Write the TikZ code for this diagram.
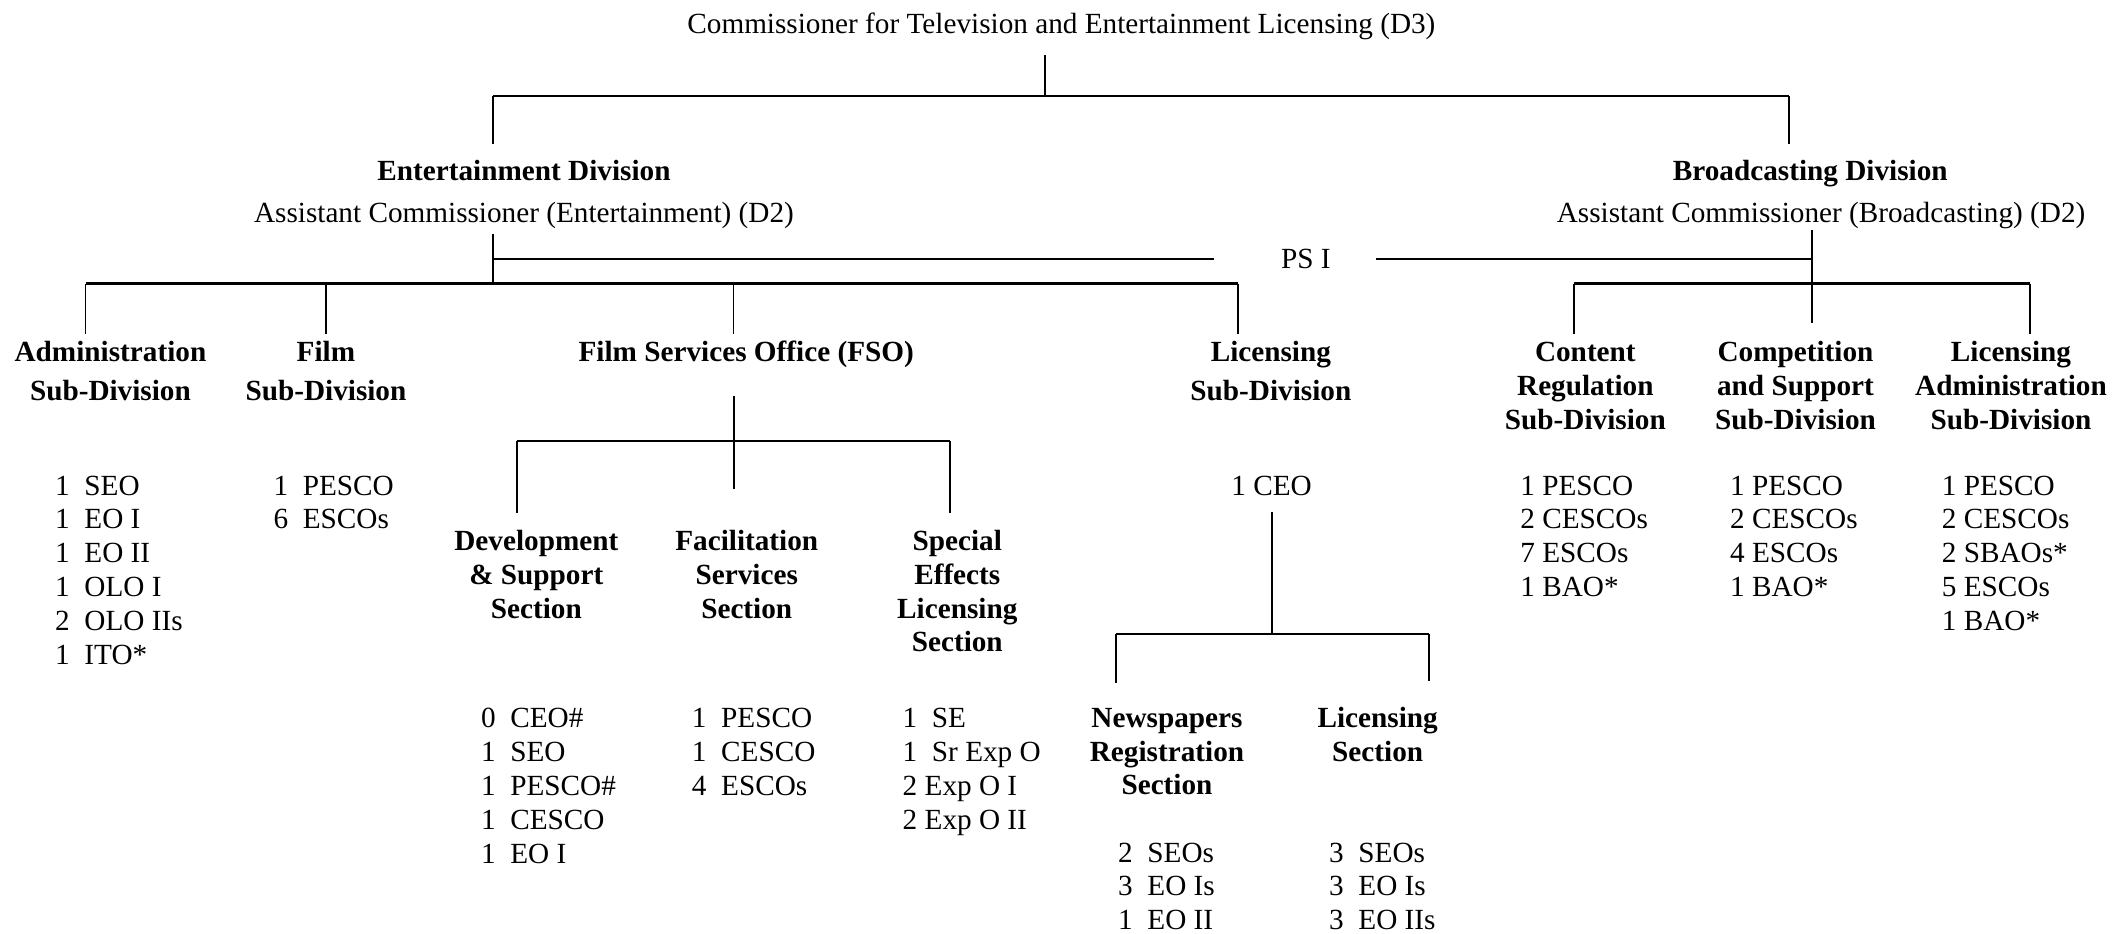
\documentclass[tikz,border=0pt]{standalone}
\usepackage{fontspec}
\setmainfont{Liberation Serif}
\newcommand{\mystk}[2]{\begin{tabular}[t]{@{}#1@{}}#2\end{tabular}}
\tikzset{
  vln/.style={line width=1.35pt},
  hln/.style={line width=1.7pt},
  lbl/.style={inner sep=0pt, anchor=base, font=\fontsize{21.7}{25}\selectfont},
  hd/.style={lbl, font=\fontsize{21.7}{25}\selectfont\bfseries},
  hdtwo/.style={lbl, font=\fontsize{21.7}{29}\selectfont\bfseries},
  lst/.style={inner sep=0pt, anchor=base west, font=\fontsize{21.7}{25.2}\selectfont},
}
\begin{document}
\begin{tikzpicture}[x=1pt,y=-1pt]
\fill[white] (0,0) rectangle (1568,693.4);
\useasboundingbox (0,0) rectangle (1568,693.4);

% ---------- top ----------
\node[lbl] (title) at (788,24.7) {Commissioner for Television and Entertainment Licensing (D3)};
\node[hd] (entdiv) at (389,134) {Entertainment Division};
\node[lbl] (entac) at (389,165) {Assistant Commissioner (Entertainment) (D2)};
\node[hd] (brdiv) at (1344,134) {Broadcasting Division};
\node[lbl] (brac) at (1352,165) {Assistant Commissioner (Broadcasting) (D2)};
\node[lbl] (psi) at (969.5,199) {PS I};

\coordinate (t0) at (776,41);
\coordinate (tL) at (366,71.3);
\coordinate (tR) at (1328,71.3);
\coordinate (tLe) at (366,107);
\coordinate (tRe) at (1328,107);
\draw[vln] (t0) -- (t0 |- tL);
\draw[hln] (tL) -- (tR);
\draw[vln] (tL) -- (tLe);
\draw[vln] (tR) -- (tRe);

% ---------- second level connectors ----------
\coordinate (e0) at (366,174);
\coordinate (e1) at (366,210.5);
\coordinate (b0) at (1345,171);
\coordinate (b1) at (1345,240);
\coordinate (p0) at (366,192.5);
\coordinate (p1) at (901,192.5);
\coordinate (p2) at (1021.5,192.5);
\coordinate (p3) at (1345,192.5);
\draw[vln] (e0) -- (e1);
\draw[vln] (b0) -- (b1);
\draw[hln] (p0) -- (p1);
\draw[hln] (p2) -- (p3);

\coordinate (eA) at (63.5,210.5);
\coordinate (eB) at (242,210.5);
\coordinate (eC) at (544.5,210.5);
\coordinate (eD) at (919,210.5);
\draw[hln] (eA) -- (eD);
\foreach \c in {eA,eB,eC,eD} \draw[vln] (\c) -- ++(0,37.5);

\coordinate (bA) at (1168.5,210.5);
\coordinate (bB) at (1507,210.5);
\draw[hln] (bA) -- (bB);
\draw[vln] (bA) -- ++(0,37.5);
\draw[vln] (bB) -- ++(0,37.5);

% ---------- sub-division headings ----------
\node[hdtwo] (adm) at (82,268.5) {\mystk{c}{Administration\\Sub-Division}};
\node[hdtwo] (film) at (242,268.5) {\mystk{c}{Film\\Sub-Division}};
\node[hd] (fso) at (554,268.5) {Film Services Office (FSO)};
\node[hdtwo] (licsub) at (943.5,268.5) {\mystk{c}{Licensing\\Sub-Division}};
\node[hd] (content) at (1177,268.5) {\mystk{c}{Content\\Regulation\\Sub-Division}};
\node[hd] (comp) at (1333,268.5) {\mystk{c}{Competition\\and Support\\Sub-Division}};
\node[hd] (licadm) at (1493,268.5) {\mystk{c}{Licensing\\Administration\\Sub-Division}};

% ---------- staff lists (sub-divisions) ----------
\node[lst] (admL) at (40.8,367.5) {\mystk{l}{1\ \ SEO\\1\ \ EO I\\1\ \ EO II\\1\ \ OLO I\\2\ \ OLO IIs\\1\ \ ITO*}};
\node[lst] (filmL) at (202.9,367.5) {\mystk{l}{1\ \ PESCO\\6\ \ ESCOs}};
\node[lbl] (ceo) at (944,367.5) {1 CEO};
\node[lst] (contL) at (1128.6,367.5) {\mystk{l}{1 PESCO\\2 CESCOs\\7 ESCOs\\1 BAO*}};
\node[lst] (compL) at (1284.3,367.5) {\mystk{l}{1 PESCO\\2 CESCOs\\4 ESCOs\\1 BAO*}};
\node[lst] (ladmL) at (1441.5,367.5) {\mystk{l}{1 PESCO\\2 CESCOs\\2 SBAOs*\\5 ESCOs\\1 BAO*}};

% ---------- FSO sections ----------
\coordinate (f0) at (544.8,294);
\coordinate (f1) at (544.8,363);
\coordinate (fA) at (383.6,327.5);
\coordinate (fB) at (705.4,327.5);
\draw[vln] (f0) -- (f1);
\draw[hln] (fA) -- (fB);
\draw[vln] (fA) -- ++(0,53.5);
\draw[vln] (fB) -- ++(0,53.5);

\node[hd] (dev) at (398.2,409) {\mystk{c}{Development\\\& Support\\Section}};
\node[hd] (fac) at (554.4,409) {\mystk{c}{Facilitation\\Services\\Section}};
\node[hd] (sfx) at (710.7,409) {\mystk{c}{Special\\Effects\\Licensing\\Section}};

\node[lst] (devL) at (357,540) {\mystk{l}{0\ \ CEO\#\\1\ \ SEO\\1\ \ PESCO\#\\1\ \ CESCO\\1\ \ EO I}};
\node[lst] (facL) at (513.5,540) {\mystk{l}{1\ \ PESCO\\1\ \ CESCO\\4\ \ ESCOs}};
\node[lst] (sfxL) at (670,540) {\mystk{l}{1\ \ SE\\1\ \ Sr Exp O\\2 Exp O I\\2 Exp O II}};

% ---------- Licensing sections ----------
\coordinate (l0) at (944.6,380);
\coordinate (l1) at (944.6,470.7);
\coordinate (lA) at (828.7,470.7);
\coordinate (lB) at (1061,470.7);
\draw[vln] (l0) -- (l1);
\draw[hln] (lA) -- (lB);
\draw[vln] (lA) -- ++(0,36);
\draw[vln] (lB) -- ++(0,35);

\node[hd] (news) at (866.4,540) {\mystk{c}{Newspapers\\Registration\\Section}};
\node[hd] (lsec) at (1022.8,540) {\mystk{c}{Licensing\\Section}};

\node[lst] (newsL) at (830,640) {\mystk{l}{2\ \ SEOs\\3\ \ EO Is\\1\ \ EO II}};
\node[lst] (lsecL) at (986.6,640) {\mystk{l}{3\ \ SEOs\\3\ \ EO Is\\3\ \ EO IIs}};
\end{tikzpicture}
\end{document}
